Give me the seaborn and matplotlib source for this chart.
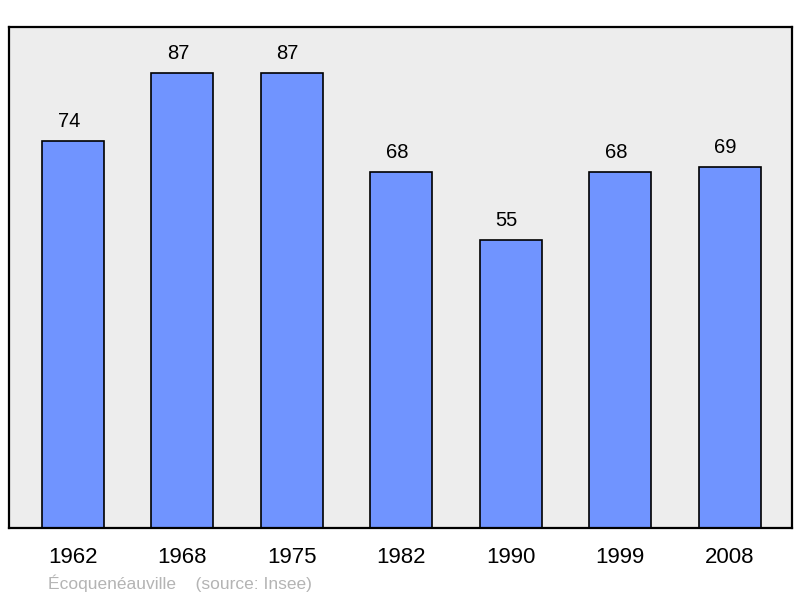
import matplotlib
matplotlib.use("Agg")
import matplotlib.pyplot as plt
import seaborn as sns
import pandas as pd

years = ["1962", "1968", "1975", "1982", "1990", "1999", "2008"]
population = [74, 87, 87, 68, 55, 68, 69]
source_text = "Écoquenéauville    (source: Insee)"

sns.set_theme(style="white")
plt.rcParams['font.family'] = ['Liberation Sans', 'DejaVu Sans']

df = pd.DataFrame({"year": years, "pop": population})

fig = plt.figure(figsize=(8.0, 5.98), dpi=100)
ax = fig.add_axes([9/800, 70/598, 783/800, 501/598])
ax.set_facecolor("#EDEDED")

sns.barplot(data=df, x="year", y="pop", ax=ax, color="#7094FF", saturation=1,
            width=0.567, edgecolor="black", linewidth=1.2)

ax.set_xlim(-0.585, 6.571)
ax.set_ylim(0, 95.8)
ax.set_yticks([])
ax.set_xlabel("")
ax.set_ylabel("")
ax.tick_params(axis="x", length=0, pad=14, labelsize=16, labelcolor="black")
for s in ax.spines.values():
    s.set_visible(True)
    s.set_color("black")
    s.set_linewidth(1.6)

for i, v in enumerate(population):
    ax.annotate(str(v), (i, v), xytext=(-3, 14), textcoords="offset points",
                ha="center", va="center", fontsize=14.5, color="black")

fig.text(48/800, 1 - 583/598, source_text, fontsize=12.5, color="#B4B4B4",
         ha="left", va="center")

fig.savefig("out.png", dpi=100)
